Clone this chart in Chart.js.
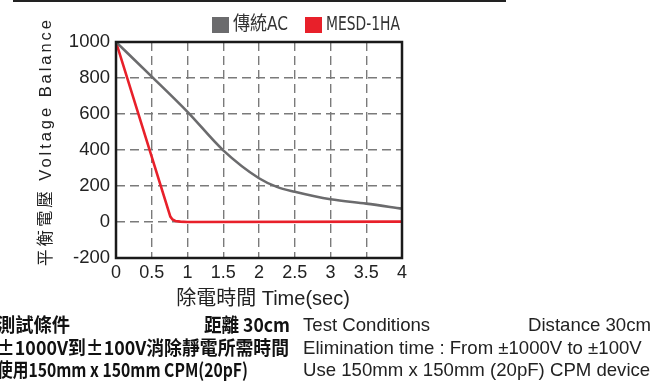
<!DOCTYPE html>
<html>
<head>
<meta charset="utf-8">
<script src="https://cdn.jsdelivr.net/npm/chart.js@4/dist/chart.umd.min.js"></script>
<style>
  html, body { margin: 0; padding: 0; background: #fff; }
  #wrap { position: relative; width: 661px; height: 385px; }
</style>
</head>
<body>
<div id="wrap"><canvas id="chart" width="661" height="385"></canvas></div>
<script>
// data
var seriesNames = ["傳統AC", "MESD-1HA"];
var acTimes = [0, 0.5, 1, 1.5, 2, 2.25, 2.5, 3, 3.5, 4];
var acValues = [1000, 808, 612, 398, 243, 195, 168, 126, 102, 74];
var mesdTimes = [0, 0.76, 0.79, 0.83, 0.9, 1, 4];
var mesdValues = [1000, 30, 14, 6, 2, 0, 2];
var yTickValues = [-200, 0, 200, 400, 600, 800, 1000];
var xTickValues = [0, 0.5, 1, 1.5, 2, 2.5, 3, 3.5, 4];

var yTitle = "平衡電壓 Voltage Balance";
var xTitle = "除電時間 Time(sec)";
var noteLeft = [
  ["測試條件", "距離 30cm"],
  ["±1000V到±100V消除靜電所需時間", ""],
  ["使用150mm x 150mm CPM(20pF)", ""]
];
var noteRight = [
  ["Test Conditions", "Distance 30cm"],
  ["Elimination time : From ±1000V to ±100V", ""],
  ["Use 150mm x 150mm (20pF) CPM device", ""]
];

var GRAY = "#6b6b6d";
var RED = "#e8202a";
var SANS = "'Liberation Sans', Arial, sans-serif";
var CJK = "'Noto Sans CJK TC', 'Noto Sans CJK SC', sans-serif";

function pts(xs, ys) {
  return xs.map(function (x, i) { return { x: x, y: ys[i] }; });
}

// extra drawing: frame, axis titles, legend, notes
var decor = {
  id: "decor",
  afterDraw: function (chart) {
    var ctx = chart.ctx;
    var a = chart.chartArea;
    ctx.save();

    // rule at the very top
    ctx.fillStyle = "#222";
    ctx.fillRect(13, 0, 493, 2);

    // plot frame
    ctx.strokeStyle = "#1a1a1a";
    ctx.lineWidth = 2.5;
    ctx.strokeRect(a.left, a.top, a.right - a.left, a.bottom - a.top);

    // y title, rotated, letters spread from y=266 up to y=20
    ctx.save();
    ctx.translate(46, 0);
    ctx.rotate(-Math.PI / 2);
    ctx.fillStyle = "#222";
    ctx.font = "16.5px " + SANS + ", " + CJK;
    ctx.textAlign = "left";
    ctx.textBaseline = "middle";
    var n = Array.from(yTitle).length;
    var w = ctx.measureText(yTitle).width;
    if ("letterSpacing" in ctx) ctx.letterSpacing = ((246 - w) / (n - 1)) + "px";
    ctx.fillText(yTitle, -266, 0);
    ctx.restore();

    // x title
    ctx.fillStyle = "#222";
    ctx.font = "20px " + SANS + ", " + CJK;
    ctx.textAlign = "center";
    ctx.textBaseline = "middle";
    ctx.fillText(xTitle, 263, 299, 178);

    // legend
    var ds = chart.data.datasets;
    var lx = [212, 305];
    var tw = [55, 74];
    ctx.textAlign = "left";
    ctx.font = "19px 'DejaVu Sans Condensed', 'Noto Sans CJK TC', sans-serif";
    ds.forEach(function (d, i) {
      ctx.fillStyle = d.borderColor;
      ctx.fillRect(lx[i], 17, 17, 16);
      ctx.fillStyle = "#333";
      ctx.fillText(d.label, lx[i] + 21, 25.5, tw[i]);
    });

    // notes under the chart
    var rowsY = [325, 347.5, 370];
    var leftW = [[73, 86], [292, 0], [251, 0]];
    ctx.fillStyle = "#111";
    ctx.font = "bold 19px " + CJK;
    noteLeft.forEach(function (row, i) {
      ctx.textAlign = "left";
      ctx.fillText(row[0], -3, rowsY[i], leftW[i][0]);
      if (row[1]) {
        ctx.textAlign = "right";
        ctx.fillText(row[1], 290, rowsY[i], leftW[i][1]);
      }
    });
    ctx.fillStyle = "#222";
    ctx.font = "18.6px " + SANS;
    noteRight.forEach(function (row, i) {
      ctx.textAlign = "left";
      ctx.fillText(row[0], 303, rowsY[i] + 1, 352);
      if (row[1]) {
        ctx.textAlign = "right";
        ctx.fillText(row[1], 651, rowsY[i] + 1);
      }
    });

    ctx.restore();
  }
};

new Chart(document.getElementById("chart"), {
  type: "line",
  data: {
    datasets: [
      {
        label: seriesNames[0],
        data: pts(acTimes, acValues),
        borderColor: GRAY,
        backgroundColor: GRAY,
        borderWidth: 2.6,
        pointRadius: 0,
        cubicInterpolationMode: "monotone"
      },
      {
        label: seriesNames[1],
        data: pts(mesdTimes, mesdValues),
        borderColor: RED,
        backgroundColor: RED,
        borderWidth: 2.6,
        pointRadius: 0,
        tension: 0
      }
    ]
  },
  options: {
    responsive: false,
    animation: false,
    events: [],
    layout: { padding: { left: 0, top: 42, right: 259, bottom: 97 } },
    plugins: {
      legend: { display: false },
      tooltip: { enabled: false }
    },
    scales: {
      x: {
        type: "linear",
        min: 0,
        max: 4,
        afterBuildTicks: function (s) {
          s.ticks = xTickValues.map(function (v) { return { value: v }; });
        },
        afterFit: function (s) { s.height = 30; },
        ticks: {
          color: "#222",
          font: { family: SANS, size: 18 },
          padding: 4,
          maxRotation: 0,
          autoSkip: false,
          callback: function (v) { return String(v); }
        },
        grid: { color: "#7a7a7a", lineWidth: 1.4, drawTicks: false },
        border: { display: false, dash: [9, 5] }
      },
      y: {
        min: -200,
        max: 1000,
        afterBuildTicks: function (s) {
          s.ticks = yTickValues.map(function (v) { return { value: v }; });
        },
        afterFit: function (s) { s.width = 116; },
        ticks: {
          color: "#222",
          font: { family: SANS, size: 18.5 },
          padding: 6,
          callback: function (v) { return String(v); }
        },
        grid: { color: "#7a7a7a", lineWidth: 1.4, drawTicks: false },
        border: { display: false, dash: [9, 5] }
      }
    }
  },
  plugins: [decor]
});
</script>
</body>
</html>
